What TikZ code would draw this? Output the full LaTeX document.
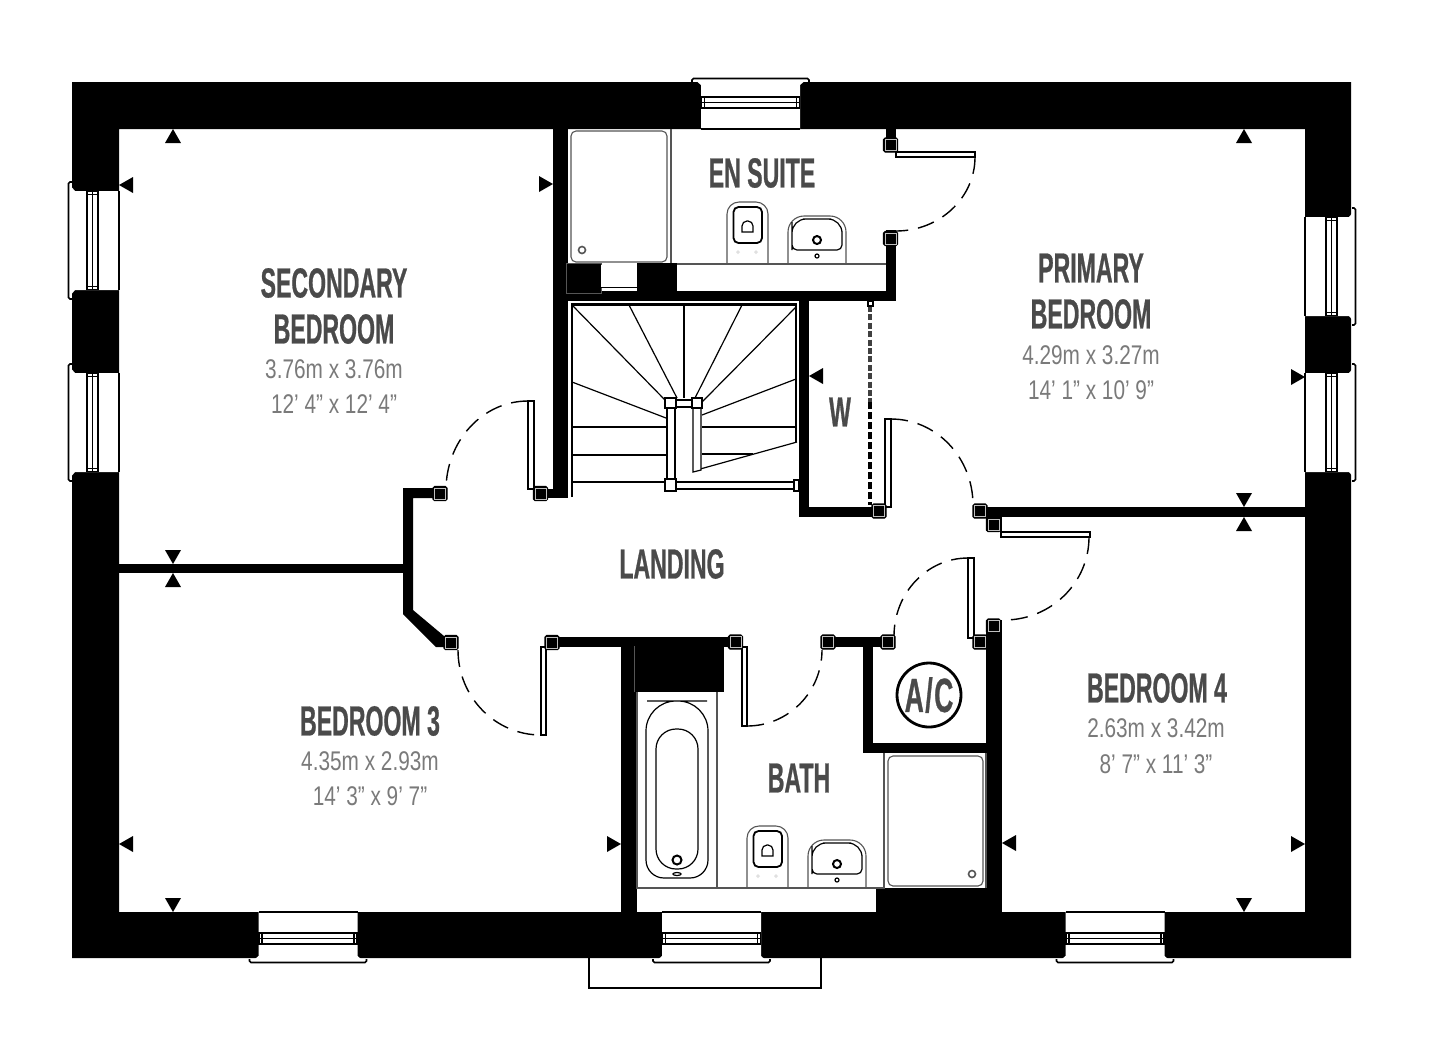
\documentclass[tikz,border=0pt]{standalone}
\usepackage{fontspec}
\newfontfamily\headfont[FakeStretch=0.55,FakeBold=0.6]{Liberation Sans Bold}
\newfontfamily\dimfont[FakeStretch=0.77]{Liberation Sans}
\definecolor{labelgrey}{HTML}{4A4A4A}
\definecolor{dimgrey}{HTML}{7A7A7A}
\definecolor{fixgrey}{HTML}{555555}
\tikzset{
  x=0.5pt,y=-0.5pt,
  wall/.style={fill=black},
  fixture/.style={draw=fixgrey,line width=0.55pt},
  heavy/.style={draw=black,line width=1.1pt},
  thin/.style={draw=black,line width=0.6pt},
  leaf/.style={draw=black,fill=white,line width=0.6pt},
  doorarc/.style={draw=black,line width=0.7pt,dash pattern=on 8.5pt off 5pt},
  roomlabel/.style={font=\headfont\fontsize{21}{21}\selectfont,text=labelgrey,inner sep=0pt},
  dimlabel/.style={font=\dimfont\fontsize{13.5}{14}\selectfont,text=dimgrey,inner sep=0pt},
}
\begin{document}
\begin{tikzpicture}
  \useasboundingbox (0,0) rectangle (1429,1046);
  \fill[white] (0,0) rectangle (1429,1046);

  %outer walls
  \fill[wall,even odd rule] (72,82) rectangle (1351,958) (119,129) rectangle (1305,912);

  %inner walls
  \fill[wall] (553,129) rectangle (568,497);
  \fill[wall] (533,489) rectangle (568,498);
  \fill[wall] (553,291) rectangle (896,301);
  \fill[wall] (886,230) rectangle (896,301);
  \fill[wall] (886,129) rectangle (896,150);
  \fill[wall] (567,263) rectangle (601,291);
  \fill[wall] (637,263) rectangle (677,291);
  \fill[wall] (799,301) rectangle (809,517);
  \fill[wall] (799,507) rectangle (880,517);
  \fill[wall] (119,564) rectangle (405,573);
  \fill[wall] (403,488) -- (440,488) -- (440,498) -- (413,498) -- (413,610) -- (444,636) -- (444,647) -- (436,647) -- (403,614) -- cycle;
  \fill[wall] (552,637) rectangle (730,647);
  \fill[wall] (621,637) rectangle (637,912);
  \fill[wall] (634,646) rectangle (724,692);
  \fill[wall] (834,637) rectangle (882,647);
  \fill[wall] (863,637) rectangle (873,753);
  \fill[wall] (863,743) rectangle (986,753);
  \fill[wall] (986,620) rectangle (1002,912);
  \fill[wall] (876,888) rectangle (990,912);
  \fill[wall] (987,507) rectangle (1305,517);
  \fill[wall] (986,507) rectangle (1002,531);
  \draw[draw=fixgrey,line width=0.3pt] (634.5,646) -- (634.5,692);
  \draw[draw=fixgrey,line width=0.3pt] (566,263) rectangle (601,293);
  \fill[white] (601,265) rectangle (637,287);
  \draw[thin] (601,287.5) -- (637,287.5);

  %windows
  \foreach \x/\y/\a in {750.5/129/180,308/912/0,711.5/912/0,1115/912/0,119/240.5/-90,119/422.5/-90,1305/266.5/90,1305/422.5/90}
  {
    \begin{scope}[shift={(\x,\y)},rotate=\a]
      \fill[white] (-49.5,0) -- (-49.5,44) -- (-53,47) -- (-53,48) -- (53,48) -- (53,47) -- (49.5,44) -- (49.5,0) -- cycle;
      \draw[heavy] (-49.5,0) -- (49.5,0);
      \draw[thin,line width=0.9pt] (-49,21) rectangle (49,32);
      \draw[thin] (-49,26.5) -- (49,26.5);
      \draw[thin] (-46,21) -- (-46,32) (46,21) -- (46,32);
      \draw[thin,line width=0.8pt] (-58.5,47) -- (-58.5,49) -- (-57,50.5) -- (57,50.5) -- (58.5,49) -- (58.5,47);
    \end{scope}
  }
  %porch
  \draw[thin,line width=0.8pt] (589,958) -- (589,988) -- (821,988) -- (821,958);

  %stairs
  \draw[heavy] (572,497) -- (572,304.5) -- (796,304.5) -- (796,442);
  \foreach \xa/\ya/\xb/\yb in {572/305/665/400,629/305/677/398,684/305/684/398,742/305/695/398,796/307/702/402,
    572/382/666/418,572/427/666/427,572/455/666/455,572/482/666/482,796/379/702/415,702/427/796/427,702/454/753/454,693/471/797/442}
    \draw[thin] (\xa,\ya) -- (\xb,\yb);
  \draw[leaf] (667,408) rectangle (675,480);
  \draw[leaf] (693,408) -- (693,472) -- (701,470) -- (701,408);
  \draw[leaf] (676,400) rectangle (692,407);
  \draw[leaf] (676,482) rectangle (795,489);
  \draw[leaf] (665,398) rectangle (676,408);
  \draw[leaf] (692,398) rectangle (702,408);
  \draw[leaf] (665,479) rectangle (676,491);
  \draw[leaf] (794,480) rectangle (799,491);

  %wardrobe door
  \draw[black!75,line width=1.9pt,dash pattern=on 3pt off 1.2pt] (870,306) -- (870,402);
  \draw[black,line width=2pt,dash pattern=on 3.5pt off 1.5pt] (870,402) -- (870,505);
  \draw[leaf] (868,301) rectangle (873,306);

  %showers
  \draw[fixture] (671,129) -- (671,263);
  \draw[fixture,rounded corners=2.5pt] (571,131) rectangle (667,262);
  \draw[fixture,line width=0.8pt] (582,250) circle (3.5);
  \draw[fixture] (677,264) -- (886,264);
  \draw[fixture] (884,753) -- (884,888);
  \draw[fixture] (986,753) -- (986,888);
  \draw[fixture,rounded corners=2.5pt] (888,756) rectangle (983,886);
  \draw[fixture,line width=0.8pt] (972,874) circle (3.5);

  %bath
  \draw[fixture] (637,692) -- (637,888) -- (885,888);
  \draw[fixture] (717,692) -- (717,888);
  \draw[thin] (677,701) [rounded corners=15pt] -- (646,701) -- (646,790) [rounded corners=9pt] -- (646,878) -- (708,878) -- (708,790) [rounded corners=15pt] -- (708,701) -- cycle;
  \draw[thin,rounded corners=10pt] (656,729) rectangle (698,869);
  \draw[thin,line width=1pt] (677,860) circle (4.5);
  \draw[thin] (677,874) ellipse (4 and 1.5);

  %wc and basin
  \foreach \x/\y in {727/264,747/888}
  {
    \draw[fixture,rounded corners=6pt] (\x,\y) -- (\x,\y-62) -- (\x+41,\y-62) -- (\x+41,\y);
    \draw[heavy,draw=black,line width=0.9pt,rounded corners=2.5pt] (\x+6.5,\y-57) rectangle (\x+35,\y-21);
    \draw[thin] (\x+15,\y-32) [rounded corners=2.5pt] -- (\x+15,\y-43) -- (\x+26,\y-43) [sharp corners] -- (\x+26,\y-32) -- cycle;
    \fill[black!12] (\x+11,\y-14) -- (\x+13,\y-12) -- (\x+11,\y-10) -- (\x+9,\y-12) -- cycle;
    \fill[black!12] (\x+29,\y-14) -- (\x+31,\y-12) -- (\x+29,\y-10) -- (\x+27,\y-12) -- cycle;
  }
  \foreach \x/\y in {788/264,808/888}
  {
    \draw[fixture,rounded corners=8pt] (\x,\y) -- (\x,\y-48) -- (\x+58,\y-48) -- (\x+58,\y);
    \draw[thin] (\x+29,\y-45) [rounded corners=7pt] -- (\x+4,\y-45) -- (\x+4,\y-28) [rounded corners=2.5pt] -- (\x+4,\y-14) -- (\x+54,\y-14) -- (\x+54,\y-28) [rounded corners=7pt] -- (\x+54,\y-45) -- cycle;
    \draw[thin,line width=1pt] (\x+29,\y-24) circle (4);
    \draw[thin] (\x+29,\y-8) circle (2);
  }

  %doors
  \draw[leaf] (896,152) rectangle (975,157);
  \draw[doorarc] (975,157) arc [start angle=0,end angle=90,x radius=79,y radius=74];
  \draw[leaf] (528,401) rectangle (534,489);
  \draw[doorarc] (528,401) arc [start angle=270,end angle=180,x radius=82,y radius=89];
  \draw[leaf] (541,647) rectangle (546,735);
  \draw[doorarc] (458,650) arc [start angle=180,end angle=90,x radius=83,y radius=85];
  \draw[leaf] (742,647) rectangle (747,726);
  \draw[doorarc] (747,726) arc [start angle=90,end angle=0,x radius=75,y radius=76];
  \draw[leaf] (968,558) rectangle (974,638);
  \draw[doorarc] (968,558) arc [start angle=270,end angle=180,x radius=74,y radius=78];
  \draw[leaf] (1001,532) rectangle (1090,537);
  \draw[doorarc] (1089,537) arc [start angle=0,end angle=90,x radius=85,y radius=83];
  \draw[leaf] (885,419) rectangle (891,507);
  \draw[doorarc] (891,419) arc [start angle=270,end angle=360,x radius=82,y radius=86];

  %jambs
  \foreach \x/\y in {890.5/145,890.5/238.5,440/493.5,540.5/493.5,451/642.5,552/642.5,735.5/642,828/642,888/642,980/642,993.5/626,993.5/524.5,980/511,879/511}
  {
    \draw[fill=black,line width=0.6pt,rounded corners=0.8pt] (\x-7,\y-7) rectangle (\x+7,\y+7);
    \draw[black!25,line width=0.3pt] (\x-5.5,\y-5.5) rectangle (\x+5.5,\y+5.5);
  }

  %markers
  \foreach \x/\y/\a in {173/129/180,1244/129/180,173/912/0,1244/912/0,173/564/0,173/573/180,1244/507/0,1244/517/180,
    119/185/-90,553/184/90,809/376/-90,1305/377/90,119/844/-90,621/844/90,1002/843/-90,1305/844/90}
    \fill[shift={(\x,\y)},rotate=\a] (0,0) -- (-8,-14) -- (8,-14) -- cycle;

  %a/c
  \draw[black,line width=1.4pt] (929,695) circle (32);
  \node[roomlabel,font=\headfont\fontsize{24}{24}\selectfont] (ac) at (929,695) {A\kern0.8pt/\kern0.8pt C};

  %labels
  \node[roomlabel] (secondary) at (334,283) {SECONDARY};
  \node[roomlabel] (secondarybed) at (334,329) {BEDROOM};
  \node[dimlabel] (secondarym) at (334,369) {3.76m x 3.76m};
  \node[dimlabel] (secondaryft) at (334,404) {12’ 4” x 12’ 4”};
  \node[roomlabel] (primary) at (1091,268) {PRIMARY};
  \node[roomlabel] (primarybed) at (1091,314) {BEDROOM};
  \node[dimlabel] (primarym) at (1091,355) {4.29m x 3.27m};
  \node[dimlabel] (primaryft) at (1091,390) {14’ 1” x 10’ 9”};
  \node[roomlabel] (ensuite) at (762,173) {EN SUITE};
  \node[roomlabel] (ward) at (840,412) {W};
  \node[roomlabel] (landing) at (672,564) {LANDING};
  \node[roomlabel] (bedthree) at (370,721) {BEDROOM 3};
  \node[dimlabel] (bedthreem) at (370,761) {4.35m x 2.93m};
  \node[dimlabel] (bedthreeft) at (370,796) {14’ 3” x 9’ 7”};
  \node[roomlabel] (bath) at (799,778) {BATH};
  \node[roomlabel] (bedfour) at (1157,688) {BEDROOM 4};
  \node[dimlabel] (bedfourm) at (1156,728) {2.63m x 3.42m};
  \node[dimlabel] (bedfourft) at (1156,764) {8’ 7” x 11’ 3”};
\end{tikzpicture}
\end{document}
